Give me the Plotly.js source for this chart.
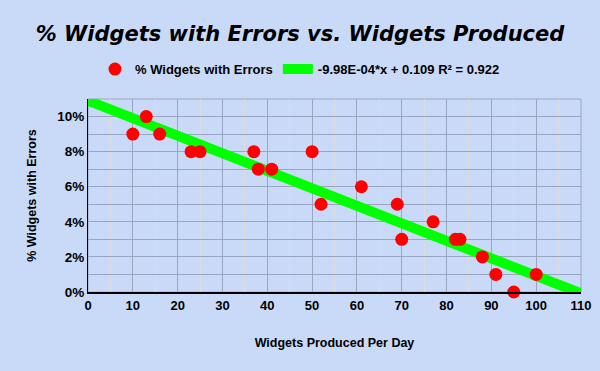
<!DOCTYPE html>
<html><head><meta charset="utf-8">
<script src="https://cdn.plot.ly/plotly-3.0.1.min.js"></script>
<style>html,body{margin:0;padding:0;background:#c9daf8;}#chart{width:600px;height:371px;}</style>
</head><body><div id="chart"></div>
<script>
const widgetsPerDay = [10,13,16,23,25,37,38,41,50,52,61,69,70,77,82,83,88,91,95,100];
const errorRate = [0.09,0.10,0.09,0.08,0.08,0.08,0.07,0.07,0.08,0.05,0.06,0.05,0.03,0.04,0.03,0.03,0.02,0.01,0.00,0.01];
const trendSlope = -9.98e-4;
const trendIntercept = 0.109;
const trendX = [0,110];
const trendY = trendX.map(x => trendSlope*x + trendIntercept);
const seriesName = '% Widgets with Errors';
const trendName = '-9.98E-04*x + 0.109 R² = 0.922';

const data = [
  {x: trendX, y: trendY, mode:'lines', name: trendName, line:{color:'#00ff00', width:10}},
  {x: widgetsPerDay, y: errorRate, mode:'markers', name: seriesName, marker:{color:'#ff0000', size:13}, cliponaxis:false}
];
const layout = {
  width:600, height:371,
  paper_bgcolor:'#c9daf8', plot_bgcolor:'#c9daf8',
  margin:{l:88, r:19, t:99, b:79},
  title:{text:'<b><i>% Widgets with Errors vs. Widgets Produced</i></b>', x:0.5, xanchor:'center', y:0.91, yanchor:'middle',
    font:{family:'DejaVu Sans, Arial Black, sans-serif', size:21, color:'#000'}},
  showlegend:true,
  legend:{orientation:'h', x:0.43, xanchor:'center', y:1.155, yanchor:'middle', traceorder:'reversed',
    font:{family:'Liberation Sans, Arial, sans-serif', size:13, color:'#000', weight:'bold'}, bgcolor:'rgba(0,0,0,0)'},
  xaxis:{range:[0,110], dtick:10, tick0:0, showgrid:true, gridcolor:'#9aa6c0', gridwidth:1,
    minor:{dtick:5, showgrid:true, gridcolor:'#dcdcd8', gridwidth:1},
    showline:true, linecolor:'#000', linewidth:2, mirror:false, zeroline:false, ticks:'',
    tickfont:{family:'Liberation Sans, Arial, sans-serif', size:13, color:'#000', weight:'bold'},
    title:{text:'<b>Widgets Produced Per Day</b>', font:{family:'Liberation Sans, Arial, sans-serif', size:12.5, color:'#000'}, standoff:27}},
  yaxis:{range:[0,0.11], dtick:0.02, tick0:0, tickformat:'.0%', showgrid:true, gridcolor:'#9aa6c0', gridwidth:1,
    minor:{dtick:0.01, showgrid:true, gridcolor:'#9aa6c0', gridwidth:1},
    showline:true, linecolor:'#000', linewidth:1, zeroline:false, ticks:'',
    tickfont:{family:'Liberation Sans, Arial, sans-serif', size:13.5, color:'#000', weight:'bold'},
    title:{text:'<b>% Widgets with Errors</b>', font:{family:'Liberation Sans, Arial, sans-serif', size:12.5, color:'#000'}, standoff:17}},
  shapes:[{type:'rect', xref:'paper', yref:'paper', x0:0, x1:1, y0:0, y1:1, line:{color:'#9aa6c0', width:1}, layer:'below'}]
};
Plotly.newPlot('chart', data, layout, {displayModeBar:false, staticPlot:true});
</script></body></html>
